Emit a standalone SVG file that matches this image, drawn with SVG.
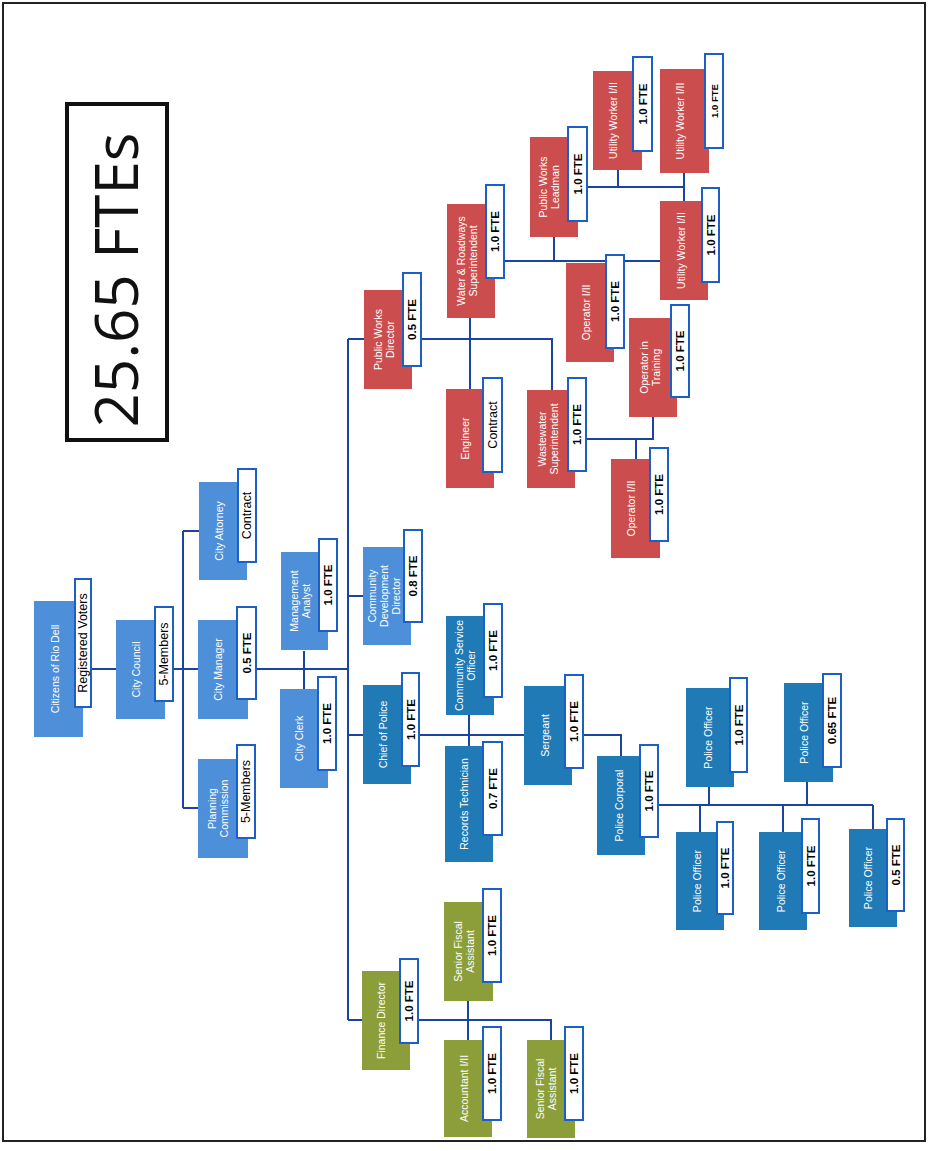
<svg xmlns="http://www.w3.org/2000/svg" width="931" height="1151" viewBox="0 0 931 1151">
<style>
.lb{fill:#4d8fd9}
.db{fill:#1f7ab5}
.rd{fill:#cc4d4d}
.gr{fill:#8c9e3a}
.lab{fill:#fff;stroke:#1c5fc6;stroke-width:2}
.t{font-family:"Liberation Sans",Arial,sans-serif;font-size:10.5px;fill:#fff;text-anchor:middle;dominant-baseline:central}
.l{font-family:"Liberation Sans",Arial,sans-serif;font-size:12.5px;fill:#000;text-anchor:middle;dominant-baseline:central}
.f{font-family:"Liberation Sans",Arial,sans-serif;font-size:11.5px;fill:#000;font-weight:bold;text-anchor:middle;dominant-baseline:central}
.conn path{stroke:#1b43a0;stroke-width:2;fill:none}
</style>
<rect width="931" height="1151" fill="#fff"/>
<rect x="3" y="3" width="922" height="1138" fill="none" stroke="#222" stroke-width="2"/>
<g id="total">
<rect x="67" y="104" width="100" height="336" fill="#fff" stroke="#111" stroke-width="4"/>
<text transform="translate(138,280) rotate(-90)" text-anchor="middle" font-family="'Open Sans','Noto Sans',sans-serif" font-weight="400" font-size="60" fill="#111" textLength="295" lengthAdjust="spacingAndGlyphs">25.65 FTEs</text>
</g>
<g class="conn" id="connectors">
<path d="M91,669H116"/>
<path d="M173,669H198"/>
<path d="M183,531V808"/>
<path d="M183,531H199"/>
<path d="M183,808H198"/>
<path d="M256,669H348"/>
<path d="M304,651V689"/>
<path d="M348,339V1020"/>
<path d="M348,339H364"/>
<path d="M348,596H363"/>
<path d="M348,735H363"/>
<path d="M348,1020H362"/>
<path d="M419,735H524"/>
<path d="M469,715V746"/>
<path d="M583,735H621V756"/>
<path d="M658,805H873"/>
<path d="M709,787V805"/>
<path d="M807,782V805"/>
<path d="M700,805V832"/>
<path d="M783,805V832"/>
<path d="M873,805V829"/>
<path d="M418,1020H551V1040"/>
<path d="M468,1001V1040"/>
<path d="M421,339H552V390"/>
<path d="M470,318V389"/>
<path d="M586,439H653V417"/>
<path d="M636,439V459"/>
<path d="M504,261H660"/>
<path d="M554,237V261"/>
<path d="M587,187H684"/>
<path d="M618,170V187"/>
<path d="M684,173V201"/>
</g>
<g id="citizens"><rect class="lb" x="34" y="601" width="49" height="136"/><rect class="lab" x="75" y="579" width="16" height="128"/>
<text class="t" transform="translate(54.5,669) rotate(-90)">Citizens of Rio Dell</text>
<text class="l" transform="translate(83,643) rotate(-90)">Registered Voters</text></g>
<g id="council"><rect class="lb" x="116" y="620" width="49" height="99"/><rect class="lab" x="155" y="607" width="18" height="94"/>
<text class="t" transform="translate(135.5,669.5) rotate(-90)">City Council</text>
<text class="l" transform="translate(164,654) rotate(-90)">5-Members</text></g>
<g id="manager"><rect class="lb" x="198" y="620" width="50" height="99"/><rect class="lab" x="237" y="607" width="19" height="92"/>
<text class="t" transform="translate(217.5,669.5) rotate(-90)">City Manager</text>
<text class="f" transform="translate(246.5,653) rotate(-90)">0.5 FTE</text></g>
<g id="planning"><rect class="lb" x="198" y="759" width="50" height="99"/><rect class="lab" x="237" y="745" width="18" height="93"/>
<text class="t" transform="translate(217.5,808.5) rotate(-90)"><tspan x="0" y="-6">Planning</tspan><tspan x="0" y="6">Commission</tspan></text>
<text class="l" transform="translate(246,791.5) rotate(-90)">5-Members</text></g>
<g id="attorney"><rect class="lb" x="199" y="482" width="48" height="98"/><rect class="lab" x="238" y="469" width="18" height="93"/>
<text class="t" transform="translate(218.5,531) rotate(-90)">City Attorney</text>
<text class="l" transform="translate(247,515.5) rotate(-90)">Contract</text></g>
<g id="analyst"><rect class="lb" x="281" y="552" width="47" height="98"/><rect class="lab" x="319" y="539" width="18" height="92"/>
<text class="t" transform="translate(300,601) rotate(-90)"><tspan x="0" y="-6">Management</tspan><tspan x="0" y="6">Analyst</tspan></text>
<text class="f" transform="translate(328,585) rotate(-90)">1.0 FTE</text></g>
<g id="clerk"><rect class="lb" x="280" y="689" width="48" height="99"/><rect class="lab" x="318" y="677" width="18" height="93"/>
<text class="t" transform="translate(299,738.5) rotate(-90)">City Clerk</text>
<text class="f" transform="translate(327,723.5) rotate(-90)">1.0 FTE</text></g>
<g id="comdev"><rect class="lb" x="363" y="547" width="48" height="98"/><rect class="lab" x="404" y="530" width="18" height="92"/>
<text class="t" transform="translate(383.5,596) rotate(-90)"><tspan x="0" y="-12">Community</tspan><tspan x="0" y="0">Development</tspan><tspan x="0" y="12">Director</tspan></text>
<text class="f" transform="translate(413,576) rotate(-90)">0.8 FTE</text></g>
<g id="chief"><rect class="db" x="363" y="685" width="48" height="99"/><rect class="lab" x="402" y="673" width="17" height="93"/>
<text class="t" transform="translate(382.5,734.5) rotate(-90)">Chief of Police</text>
<text class="f" transform="translate(410.5,719.5) rotate(-90)">1.0 FTE</text></g>
<g id="cso"><rect class="db" x="446" y="616" width="48" height="99"/><rect class="lab" x="484" y="604" width="18" height="93"/>
<text class="t" transform="translate(465,665.5) rotate(-90)"><tspan x="0" y="-6">Community Service</tspan><tspan x="0" y="6">Officer</tspan></text>
<text class="f" transform="translate(493,650.5) rotate(-90)">1.0 FTE</text></g>
<g id="records"><rect class="db" x="445" y="746" width="48" height="116"/><rect class="lab" x="483" y="742" width="19" height="93"/>
<text class="t" transform="translate(464,804) rotate(-90)">Records Technician</text>
<text class="f" transform="translate(492.5,788.5) rotate(-90)">0.7 FTE</text></g>
<g id="sergeant"><rect class="db" x="524" y="686" width="48" height="99"/><rect class="lab" x="565" y="675" width="18" height="93"/>
<text class="t" transform="translate(544.5,735.5) rotate(-90)">Sergeant</text>
<text class="f" transform="translate(574,721.5) rotate(-90)">1.0 FTE</text></g>
<g id="corporal"><rect class="db" x="597" y="756" width="48" height="99"/><rect class="lab" x="640" y="745" width="18" height="92"/>
<text class="t" transform="translate(618.5,805.5) rotate(-90)">Police Corporal</text>
<text class="f" transform="translate(649,791) rotate(-90)">1.0 FTE</text></g>
<g id="officer1"><rect class="db" x="686" y="688" width="48" height="99"/><rect class="lab" x="730" y="678" width="17" height="94"/>
<text class="t" transform="translate(708,737.5) rotate(-90)">Police Officer</text>
<text class="f" transform="translate(738.5,725) rotate(-90)">1.0 FTE</text></g>
<g id="officer2"><rect class="db" x="784" y="683" width="49" height="99"/><rect class="lab" x="823" y="674" width="18" height="93"/>
<text class="t" transform="translate(803.5,732.5) rotate(-90)">Police Officer</text>
<text class="f" transform="translate(832,720.5) rotate(-90)">0.65 FTE</text></g>
<g id="officer3"><rect class="db" x="676" y="832" width="48" height="98"/><rect class="lab" x="717" y="822" width="16" height="92"/>
<text class="t" transform="translate(696.5,881) rotate(-90)">Police Officer</text>
<text class="f" transform="translate(725,868) rotate(-90)">1.0 FTE</text></g>
<g id="officer4"><rect class="db" x="759" y="832" width="48" height="98"/><rect class="lab" x="802" y="819" width="17" height="94"/>
<text class="t" transform="translate(780.5,881) rotate(-90)">Police Officer</text>
<text class="f" transform="translate(810.5,866) rotate(-90)">1.0 FTE</text></g>
<g id="officer5"><rect class="db" x="849" y="829" width="48" height="98"/><rect class="lab" x="887" y="819" width="17" height="92"/>
<text class="t" transform="translate(868,878) rotate(-90)">Police Officer</text>
<text class="f" transform="translate(895.5,865) rotate(-90)">0.5 FTE</text></g>
<g id="finance"><rect class="gr" x="362" y="971" width="48" height="99"/><rect class="lab" x="400" y="959" width="18" height="84"/>
<text class="t" transform="translate(381,1020.5) rotate(-90)">Finance Director</text>
<text class="f" transform="translate(409,1001) rotate(-90)">1.0 FTE</text></g>
<g id="fiscal1"><rect class="gr" x="444" y="902" width="49" height="99"/><rect class="lab" x="483" y="889" width="18" height="93"/>
<text class="t" transform="translate(463.5,951.5) rotate(-90)"><tspan x="0" y="-6">Senior Fiscal</tspan><tspan x="0" y="6">Assistant</tspan></text>
<text class="f" transform="translate(492,935.5) rotate(-90)">1.0 FTE</text></g>
<g id="accountant"><rect class="gr" x="444" y="1040" width="48" height="97"/><rect class="lab" x="483" y="1027" width="18" height="93"/>
<text class="t" transform="translate(463.5,1088.5) rotate(-90)">Accountant I/II</text>
<text class="f" transform="translate(492,1073.5) rotate(-90)">1.0 FTE</text></g>
<g id="fiscal2"><rect class="gr" x="527" y="1040" width="48" height="98"/><rect class="lab" x="565" y="1027" width="18" height="93"/>
<text class="t" transform="translate(546,1089) rotate(-90)"><tspan x="0" y="-6">Senior Fiscal</tspan><tspan x="0" y="6">Assistant</tspan></text>
<text class="f" transform="translate(574,1073.5) rotate(-90)">1.0 FTE</text></g>
<g id="pwdirector"><rect class="rd" x="364" y="290" width="48" height="99"/><rect class="lab" x="403" y="273" width="18" height="93"/>
<text class="t" transform="translate(383.5,339.5) rotate(-90)"><tspan x="0" y="-6">Public Works</tspan><tspan x="0" y="6">Director</tspan></text>
<text class="f" transform="translate(412,319.5) rotate(-90)">0.5 FTE</text></g>
<g id="waterroad"><rect class="rd" x="447" y="204" width="48" height="114"/><rect class="lab" x="486" y="185" width="18" height="93"/>
<text class="t" transform="translate(466.5,261) rotate(-90)"><tspan x="0" y="-6">Water &amp; Roadways</tspan><tspan x="0" y="6">Superintendent</tspan></text>
<text class="f" transform="translate(495,231.5) rotate(-90)">1.0 FTE</text></g>
<g id="engineer"><rect class="rd" x="446" y="389" width="48" height="99"/><rect class="lab" x="483" y="378" width="19" height="94"/>
<text class="t" transform="translate(464.5,438.5) rotate(-90)">Engineer</text>
<text class="l" transform="translate(492.5,425) rotate(-90)">Contract</text></g>
<g id="wastewater"><rect class="rd" x="527" y="390" width="48" height="98"/><rect class="lab" x="568" y="378" width="18" height="93"/>
<text class="t" transform="translate(547.5,439) rotate(-90)"><tspan x="0" y="-6">Wastewater</tspan><tspan x="0" y="6">Superintendent</tspan></text>
<text class="f" transform="translate(577,424.5) rotate(-90)">1.0 FTE</text></g>
<g id="operator1"><rect class="rd" x="566" y="263" width="48" height="99"/><rect class="lab" x="606" y="255" width="18" height="93"/>
<text class="t" transform="translate(586,312.5) rotate(-90)">Operator I/II</text>
<text class="f" transform="translate(615,301.5) rotate(-90)">1.0 FTE</text></g>
<g id="optraining"><rect class="rd" x="629" y="318" width="48" height="99"/><rect class="lab" x="671" y="305" width="18" height="92"/>
<text class="t" transform="translate(650,367.5) rotate(-90)"><tspan x="0" y="-6">Operator in</tspan><tspan x="0" y="6">Training</tspan></text>
<text class="f" transform="translate(680,351) rotate(-90)">1.0 FTE</text></g>
<g id="operator2"><rect class="rd" x="611" y="459" width="49" height="99"/><rect class="lab" x="650" y="448" width="18" height="93"/>
<text class="t" transform="translate(630.5,508.5) rotate(-90)">Operator I/II</text>
<text class="f" transform="translate(659,494.5) rotate(-90)">1.0 FTE</text></g>
<g id="leadman"><rect class="rd" x="530" y="137" width="48" height="100"/><rect class="lab" x="568" y="127" width="19" height="94"/>
<text class="t" transform="translate(549,187) rotate(-90)"><tspan x="0" y="-6">Public Works</tspan><tspan x="0" y="6">Leadman</tspan></text>
<text class="f" transform="translate(577.5,174) rotate(-90)">1.0 FTE</text></g>
<g id="utility1"><rect class="rd" x="593" y="71" width="49" height="99"/><rect class="lab" x="633" y="57" width="19" height="94"/>
<text class="t" transform="translate(613,120.5) rotate(-90)">Utility Worker I/II</text>
<text class="f" transform="translate(642.5,104) rotate(-90)">1.0 FTE</text></g>
<g id="utility2"><rect class="rd" x="660" y="69" width="49" height="104"/><rect class="lab" x="705" y="54" width="18" height="94"/>
<text class="t" transform="translate(680,121) rotate(-90)">Utility Worker I/II</text>
<text class="f" transform="translate(714,101) rotate(-90)" style="font-size:9.5px">1.0 FTE</text></g>
<g id="utility3"><rect class="rd" x="660" y="201" width="48" height="99"/><rect class="lab" x="702" y="188" width="17" height="94"/>
<text class="t" transform="translate(681,250.5) rotate(-90)">Utility Worker I/II</text>
<text class="f" transform="translate(710.5,235) rotate(-90)">1.0 FTE</text></g>
</svg>
